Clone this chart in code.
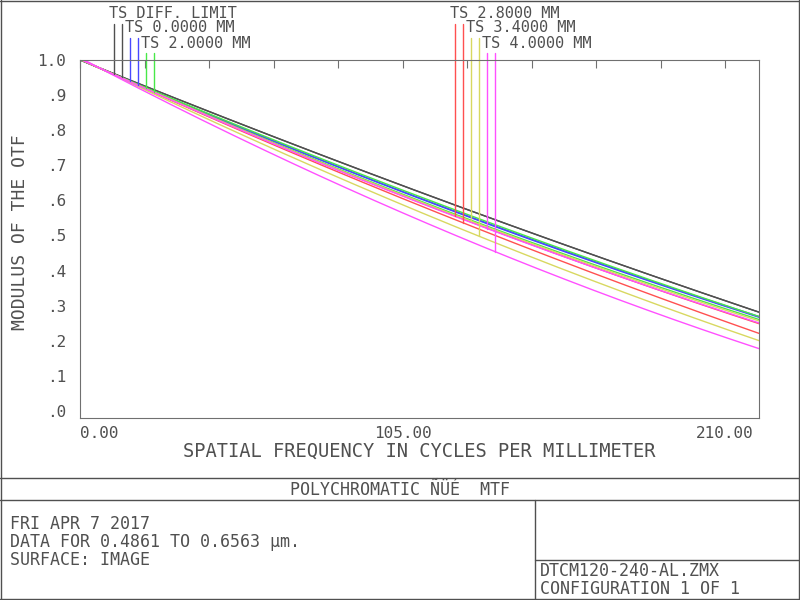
import numpy as np, pandas as pd, matplotlib
matplotlib.use("Agg")
import matplotlib.pyplot as plt, seaborn as sns
from matplotlib.lines import Line2D

freq = [0, 39, 105, 137, 221]
diff_t = [1, 0.863, 0.645, 0.536, 0.282]
diff_s = [1, 0.863, 0.645, 0.536, 0.282]
f0_t = [1, 0.856, 0.63, 0.516, 0.27]
f0_s = [1, 0.856, 0.628, 0.514, 0.268]
f2_t = [1, 0.857, 0.634, 0.52, 0.27]
f2_s = [1, 0.855, 0.622, 0.506, 0.262]
f28_t = [1, 0.854, 0.617, 0.501, 0.25]
f28_s = [1, 0.852, 0.607, 0.49, 0.222]
f34_t = [1, 0.855, 0.619, 0.503, 0.258]
f34_s = [1, 0.849, 0.588, 0.468, 0.202]
f4_t = [1, 0.854, 0.615, 0.50, 0.252]
f4_s = [1, 0.843, 0.565, 0.44, 0.18]
labels = ["TS DIFF. LIMIT", "TS 0.0000 MM", "TS 2.0000 MM", "TS 2.8000 MM", "TS 3.4000 MM", "TS 4.0000 MM"]
colors = ["#505050", "#4848ff", "#48e848", "#ff5050", "#d8d860", "#ff50ff"]
series = [(diff_t, diff_s), (f0_t, f0_s), (f2_t, f2_s), (f28_t, f28_s), (f34_t, f34_s), (f4_t, f4_s)]

sns.set_style("white")
plt.rcParams['font.family'] = ['DejaVu Sans Mono']
TXT = "#505050"
fig = plt.figure(figsize=(8, 6), dpi=100)
ax = fig.add_axes([0.1, 1 - 418 / 600, (759 - 80) / 800, (418 - 60) / 600])
fx = np.linspace(0, 221, 200)
for (t, s), c in zip(series, colors):
    for arr in (t, s):
        coef = np.polyfit(freq, arr, 2)
        sns.lineplot(x=fx, y=np.polyval(coef, fx), color=c, lw=1, ax=ax)
ax.set_xlim(0, 221)
ax.set_ylim(-0.02, 1.0)
xt = np.arange(0, 221, 21)
ax.set_xticks(xt)
ax.set_xticklabels(["0.00" if v == 0 else "105.00" if v == 105 else "210.00" if v == 210 else "" for v in xt])
ax.get_xticklabels()[0].set_horizontalalignment("left")
ax.set_yticks(np.arange(0, 1.01, 0.1))
ax.set_yticklabels([".0", ".1", ".2", ".3", ".4", ".5", ".6", ".7", ".8", ".9", "1.0"])
ax.tick_params(direction="in", length=6, color="#707070", labelcolor=TXT, labelsize=11.5, top=True, right=False, bottom=False, pad=10)
ax.tick_params(axis="x", labeltop=False, pad=6)
for sp in ax.spines.values():
    sp.set_color("#707070")
ax.set_xlabel("SPATIAL FREQUENCY IN CYCLES PER MILLIMETER", fontsize=13.5, color=TXT, labelpad=0)
ax.set_ylabel("MODULUS OF THE OTF", fontsize=13, color=TXT, va="center")
ax.yaxis.set_label_coords(-0.088, 0.52)

segx = [(114, 122), (130, 138), (146, 154), (455, 463), (471, 479), (487, 495)]
tops = [24, 38, 53, 24, 38, 53]
texty = [14, 28, 43, 14, 28, 43]
textx = [109, 125, 141, 450, 466, 482]
for i, ((t, s), c) in enumerate(zip(series, colors)):
    for px, arr in zip(segx[i], (t, s)):
        f = (px - 80) / 3.071
        coef = np.polyfit(freq, arr, 2)
        ax.add_line(Line2D([f, f], [np.polyval(coef, f), (411 - tops[i]) / 351], color=c, lw=1, clip_on=False))
    fig.text(textx[i] / 800, 1 - texty[i] / 600, labels[i], fontsize=11, color=TXT, va="center")

def hl(y, x0=0, x1=800):
    fig.add_artist(Line2D([x0 / 800, x1 / 800], [1 - y / 600, 1 - y / 600], color="#505050", lw=1))
def vl(x, y0, y1):
    fig.add_artist(Line2D([x / 800, x / 800], [1 - y0 / 600, 1 - y1 / 600], color="#505050", lw=1))
hl(1); hl(478); hl(500); hl(560, 535, 800); hl(599)
vl(1, 0, 600); vl(799, 0, 600); vl(535, 500, 600)
fig.text(0.5, 1 - 490 / 600, "POLYCHROMATIC ÑÜÉ  MTF", ha="center", va="center", fontsize=12, color=TXT)
fig.text(10 / 800, 1 - 542 / 600, "FRI APR 7 2017\nDATA FOR 0.4861 TO 0.6563 µm.\nSURFACE: IMAGE", va="center", fontsize=12, color=TXT, linespacing=1.0)
fig.text(540 / 800, 1 - 580 / 600, "DTCM120-240-AL.ZMX\nCONFIGURATION 1 OF 1", va="center", fontsize=12, color=TXT, linespacing=1.0)
fig.savefig("out.png", dpi=100)
